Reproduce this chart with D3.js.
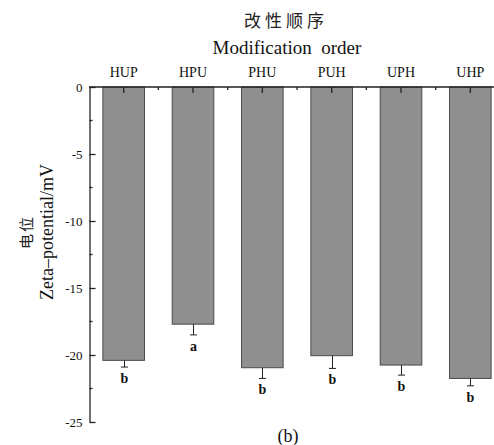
<!DOCTYPE html>
<html>
<head>
<meta charset="utf-8">
<script src="https://cdn.jsdelivr.net/npm/d3@7"></script>
<style>
  html, body { margin: 0; padding: 0; background: #fff; }
  svg { display: block; }
</style>
</head>
<body>
<script>
const categories = ["HUP", "HPU", "PHU", "PUH", "UPH", "UHP"];
const values = [-20.4, -17.7, -20.95, -20.05, -20.75, -21.75];
const errors = [0.5, 0.8, 0.8, 0.95, 0.75, 0.55];
const letters = ["b", "a", "b", "b", "b", "b"];
const yTicks = [0, -5, -10, -15, -20, -25];
const yMinorTicks = [-2.5, -7.5, -12.5, -17.5, -22.5];

const SERIF = "Liberation Serif";
const CJK = "Noto Sans CJK SC";

const W = 494, H = 445;
const svg = d3.select("body").append("svg").attr("width", W).attr("height", H);

const x = d3.scaleBand().domain(categories).range([89, 505]).paddingInner(0.4).paddingOuter(0.2);
const y = d3.scaleLinear().domain([0, -25]).range([87, 422]);

const ink = "#222";

// bars
svg.append("g").selectAll("rect").data(categories).join("rect")
  .attr("x", d => x(d))
  .attr("y", y(0))
  .attr("width", x.bandwidth())
  .attr("height", (d, i) => y(values[i]) - y(0))
  .attr("fill", "#8f8f8f")
  .attr("stroke", "#4a4a4a")
  .attr("stroke-width", 1);

// error bars
const eg = svg.append("g").attr("stroke", ink).attr("stroke-width", 1);
categories.forEach((c, i) => {
  const cx = Math.round(x(c) + x.bandwidth() / 2) + 0.5;
  const y0 = y(values[i]), y1 = y(values[i] - errors[i]);
  eg.append("line").attr("x1", cx).attr("x2", cx).attr("y1", y0).attr("y2", y1);
  eg.append("line").attr("x1", cx - 3.5).attr("x2", cx + 3.5).attr("y1", y1).attr("y2", y1);
  svg.append("text").attr("x", cx).attr("y", y1 + 16)
    .attr("text-anchor", "middle").style("font-family", SERIF).style("font-size", "14px")
    .style("font-weight", "bold").style("fill", "#111").text(letters[i]);
});

// left axis
const yAxis = d3.axisLeft(y).tickValues(yTicks).tickSizeInner(-6).tickSizeOuter(0)
  .tickPadding(7).tickFormat(d => String(d));
const ya = svg.append("g").attr("transform", "translate(89.5,0)").call(yAxis);
ya.attr("font-family", SERIF);
ya.select(".domain").attr("stroke", ink).attr("stroke-width", 1.3);
ya.selectAll(".tick line").attr("stroke", ink).attr("stroke-width", 1.3);
ya.selectAll(".tick text").style("font-size", "13px").style("font-family", SERIF).style("fill", "#111");
ya.append("g").selectAll("line").data(yMinorTicks).join("line")
  .attr("x1", 0).attr("x2", 3).attr("y1", d => y(d)).attr("y2", d => y(d))
  .attr("stroke", ink).attr("stroke-width", 1.3);

// top axis
const ta = svg.append("g");
ta.append("line").attr("x1", 89).attr("x2", 505).attr("y1", y(0)).attr("y2", y(0))
  .attr("stroke", ink).attr("stroke-width", 1.3);
ta.selectAll(".maj").data(categories).join("line").attr("class", "maj")
  .attr("x1", d => x(d) + x.bandwidth() / 2).attr("x2", d => x(d) + x.bandwidth() / 2)
  .attr("y1", y(0)).attr("y2", y(0) + 6).attr("stroke", ink).attr("stroke-width", 1.3);
ta.selectAll(".min").data(categories.slice(1)).join("line").attr("class", "min")
  .attr("x1", d => x(d) + x.bandwidth() / 2 - x.step() / 2).attr("x2", d => x(d) + x.bandwidth() / 2 - x.step() / 2)
  .attr("y1", y(0)).attr("y2", y(0) + 3).attr("stroke", ink).attr("stroke-width", 1.3);
ta.selectAll("text").data(categories).join("text")
  .attr("x", d => x(d) + x.bandwidth() / 2).attr("y", 77)
  .attr("text-anchor", "middle").style("font-family", SERIF).style("font-size", "14px")
  .style("fill", "#111").text(d => d);

// titles
svg.append("text").attr("x", 286).attr("y", 27)
  .attr("text-anchor", "middle").style("font-family", CJK).style("font-size", "17px")
  .style("letter-spacing", "4px").style("fill", "#222").text("改性顺序");
svg.append("text").attr("x", 287).attr("y", 54).attr("text-anchor", "middle")
  .style("font-family", SERIF).style("font-size", "19px").style("fill", "#111")
  .text("Modification\u00a0\u00a0order");

svg.append("text").attr("transform", "translate(32,232) rotate(-90)")
  .attr("text-anchor", "middle").style("font-family", CJK).style("font-size", "15px")
  .style("letter-spacing", "2px").style("fill", "#222").text("电位");
svg.append("text").attr("transform", "translate(53,232) rotate(-90)")
  .attr("text-anchor", "middle").style("font-family", SERIF).style("font-size", "18px")
  .style("fill", "#111").text("Zeta–potential/mV");

svg.append("text").attr("x", 288).attr("y", 442).attr("text-anchor", "middle")
  .style("font-family", SERIF).style("font-size", "18px").style("fill", "#111").text("(b)");
</script>
</body>
</html>
